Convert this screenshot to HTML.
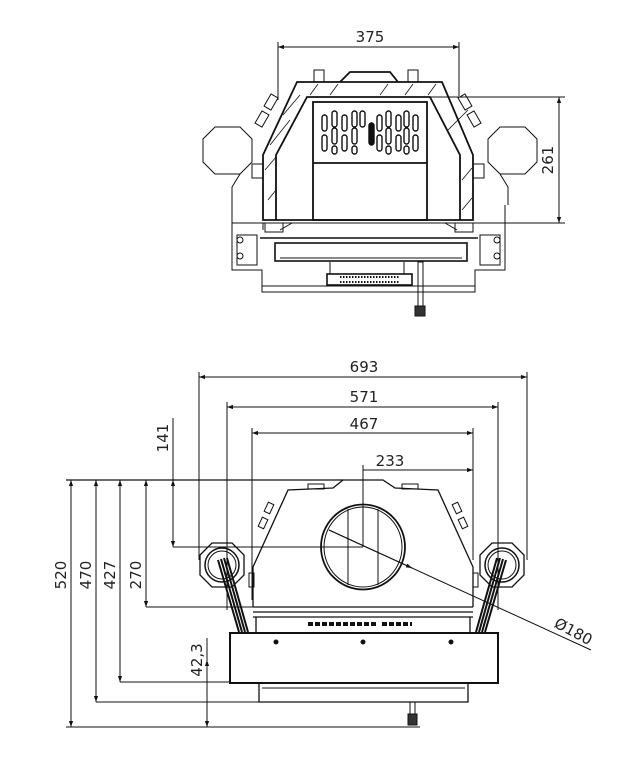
<!DOCTYPE html>
<html><head><meta charset="utf-8"><style>
html,body{margin:0;padding:0;background:#fff;}
svg{display:block;}
text{font-family:"DejaVu Sans","Liberation Sans",sans-serif;font-size:15px;fill:#222;}
</style></head><body>
<svg width="634" height="761" viewBox="0 0 634 761" xmlns="http://www.w3.org/2000/svg">
<defs>
<marker id="a" viewBox="0 0 10 10" refX="10" refY="5" markerWidth="10" markerHeight="6" orient="auto-start-reverse" markerUnits="userSpaceOnUse"><path d="M0,1.5 L10,5 L0,8.5 z" fill="#111"/></marker>
</defs>
<g stroke="#111" fill="none" stroke-width="1">
<!-- TOP VIEW -->
<line x1="278" y1="47" x2="459" y2="47" marker-start="url(#a)" marker-end="url(#a)"/>
<line x1="278" y1="42" x2="278" y2="100"/><line x1="459" y1="42" x2="459" y2="96"/>
<line x1="559" y1="97" x2="559" y2="223" marker-start="url(#a)" marker-end="url(#a)"/>
<line x1="430" y1="97" x2="565" y2="97"/><line x1="500" y1="223" x2="565" y2="223"/>
<g stroke-width="1.8">
<path d="M263,155 L297,82 L442,82 L473,155 L473,220 L263,220 Z"/>
<path d="M276,220 L276,155 L307,97 L430,97 L460,155 L460,220"/>
<rect x="313" y="102" width="114" height="118"/>
<line x1="313" y1="163" x2="427" y2="163"/>
<path d="M340,82 L350,72 L390,72 L398,82"/>
</g>
<path d="M310,95 L318,84 M330,95 L338,84 M380,95 L388,84 M405,95 L413,84 M428,95 L436,84 M268,200 L276,190 M265,170 L276,157 M270,145 L290,120 M283,115 L300,95 M462,210 L472,198 M462,180 L472,168 M448,130 L468,110" stroke-width="0.8"/>
<rect x="314" y="70" width="10" height="12"/><rect x="408" y="70" width="10" height="12"/>
<g stroke-width="1.4">
<rect x="322" y="115" width="5" height="16" rx="2.5"/><rect x="322" y="135" width="5" height="16" rx="2.5"/>
<rect x="332" y="111" width="5" height="16" rx="2.5"/><rect x="332" y="128" width="5" height="16" rx="2.5"/><rect x="332" y="146" width="5" height="8" rx="2.5"/>
<rect x="342" y="115" width="5" height="16" rx="2.5"/><rect x="342" y="135" width="5" height="16" rx="2.5"/>
<rect x="352" y="111" width="5" height="16" rx="2.5"/><rect x="352" y="128" width="5" height="16" rx="2.5"/><rect x="352" y="146" width="5" height="8" rx="2.5"/>
<rect x="360" y="111" width="5" height="16" rx="2.5"/><rect x="369" y="123" width="5" height="22" rx="2.5" fill="#111"/>
<rect x="377" y="115" width="5" height="16" rx="2.5"/><rect x="377" y="135" width="5" height="16" rx="2.5"/>
<rect x="386" y="111" width="5" height="16" rx="2.5"/><rect x="386" y="128" width="5" height="16" rx="2.5"/><rect x="386" y="146" width="5" height="8" rx="2.5"/>
<rect x="396" y="115" width="5" height="16" rx="2.5"/><rect x="396" y="135" width="5" height="16" rx="2.5"/>
<rect x="404" y="111" width="5" height="16" rx="2.5"/><rect x="404" y="128" width="5" height="16" rx="2.5"/><rect x="404" y="146" width="5" height="8" rx="2.5"/>
<rect x="413" y="115" width="5" height="16" rx="2.5"/><rect x="413" y="135" width="5" height="16" rx="2.5"/>
</g>
<polygon points="215,127 240,127 252,139 252,162 240,174 215,174 203,162 203,139"/>
<path d="M240,174 L232,187 L232,205"/>
<polygon points="500,127 525,127 537,139 537,162 525,174 500,174 488,162 488,139"/>
<path d="M500,174 L508,187 L508,205"/>
<rect x="252" y="164" width="11" height="14"/><rect x="473" y="164" width="11" height="14"/>
<rect x="267" y="95" width="8" height="14" transform="rotate(30 271 102)"/><rect x="258" y="112" width="8" height="14" transform="rotate(30 262 119)"/>
<rect x="461" y="95" width="8" height="14" transform="rotate(-30 465 102)"/><rect x="470" y="112" width="8" height="14" transform="rotate(-30 474 119)"/>
<path d="M232,205 L232,270 L262,270 L262,292 L475,292 L475,270 L505,270 L505,205"/>
<line x1="262" y1="286" x2="475" y2="286"/>
<line x1="232" y1="223" x2="505" y2="223"/>
<path d="M263,223 L263,230 M473,223 L473,230 M292,223 L280,230 M445,223 L457,230"/>
<rect x="265" y="223" width="18" height="9"/><rect x="455" y="223" width="18" height="9"/>
<line x1="260" y1="238" x2="478" y2="238" stroke-width="1.6"/>
<rect x="275" y="243" width="192" height="18" stroke-width="1.6"/>
<line x1="280" y1="258" x2="462" y2="258"/>
<rect x="237" y="235" width="20" height="30"/><rect x="480" y="235" width="20" height="30"/>
<circle cx="240" cy="240" r="3"/><circle cx="240" cy="256" r="3"/><circle cx="497" cy="240" r="3"/><circle cx="497" cy="256" r="3"/>
<line x1="330" y1="262" x2="330" y2="274"/><line x1="404" y1="262" x2="404" y2="274"/>
<rect x="327" y="274" width="85" height="11" stroke-width="1.6"/>
<path d="M340,277 h60 M340,282 h60" stroke-dasharray="1.5 1.5" stroke-width="2"/>
<rect x="418" y="262" width="5" height="45"/>
<rect x="415" y="306" width="10" height="10" fill="#333"/>

<!-- BOTTOM VIEW -->
<line x1="199" y1="377" x2="527" y2="377" marker-start="url(#a)" marker-end="url(#a)"/>
<line x1="199" y1="372" x2="199" y2="560"/><line x1="527" y1="372" x2="527" y2="560"/>
<line x1="227" y1="407" x2="498" y2="407" marker-start="url(#a)" marker-end="url(#a)"/>
<line x1="227" y1="402" x2="227" y2="610"/><line x1="498" y1="402" x2="498" y2="610"/>
<line x1="252" y1="433" x2="473" y2="433" marker-start="url(#a)" marker-end="url(#a)"/>
<line x1="252" y1="428" x2="252" y2="600"/><line x1="473" y1="428" x2="473" y2="560"/>
<line x1="363" y1="470" x2="473" y2="470" marker-end="url(#a)"/>
<line x1="363" y1="465" x2="363" y2="547"/>
<line x1="66" y1="480" x2="343" y2="480" stroke-width="1.3"/>
<line x1="71" y1="480" x2="71" y2="727" marker-start="url(#a)" marker-end="url(#a)"/>
<line x1="96" y1="480" x2="96" y2="702" marker-start="url(#a)" marker-end="url(#a)"/>
<line x1="120" y1="480" x2="120" y2="682" marker-start="url(#a)" marker-end="url(#a)"/>
<line x1="146" y1="480" x2="146" y2="607" marker-start="url(#a)" marker-end="url(#a)"/>
<line x1="173" y1="418" x2="173" y2="547"/>
<line x1="173" y1="480" x2="173" y2="547" marker-start="url(#a)" marker-end="url(#a)"/>
<line x1="173" y1="547" x2="363" y2="547"/>
<line x1="146" y1="607" x2="253" y2="607"/>
<line x1="120" y1="682" x2="230" y2="682"/>
<line x1="96" y1="702" x2="259" y2="702"/>
<line x1="66" y1="727" x2="420" y2="727"/>
<line x1="207" y1="638" x2="207" y2="727"/>
<line x1="207" y1="660" x2="207" y2="682" marker-start="url(#a)"/>
<line x1="207" y1="702" x2="207" y2="727" marker-end="url(#a)"/>
<g stroke-width="1.3">
<path d="M253,607 L253,567 L288,490 L333,488 L343,480 L383,480 L395,488 L438,490 L473,567 L473,607"/>
<line x1="253" y1="607" x2="473" y2="607"/><line x1="253" y1="612" x2="473" y2="612"/><line x1="253" y1="617" x2="473" y2="617"/>
<line x1="256" y1="617" x2="256" y2="633"/><line x1="470" y1="617" x2="470" y2="633"/>
</g>
<rect x="308" y="484" width="16" height="5"/><rect x="402" y="484" width="16" height="5"/>
<rect x="266" y="503" width="6" height="10" transform="rotate(25 269 508)"/><rect x="260" y="518" width="6" height="10" transform="rotate(25 263 523)"/>
<rect x="454" y="503" width="6" height="10" transform="rotate(-25 457 508)"/><rect x="460" y="518" width="6" height="10" transform="rotate(-25 463 523)"/>
<rect x="249" y="573" width="5" height="14"/><rect x="473" y="573" width="5" height="14"/>
<ellipse cx="363" cy="547" rx="42" ry="42.5" stroke-width="1.8"/>
<ellipse cx="363" cy="547" rx="39" ry="40"/>
<line x1="348" y1="509" x2="348" y2="585"/><line x1="378" y1="509" x2="378" y2="585"/>
<path d="M308,624 h70 M382,624 h30" stroke-width="4" stroke-dasharray="5 2"/>
<polygon points="212,543 232,543 244,555 244,575 232,587 212,587 200,575 200,555" stroke-width="1.3"/>
<circle cx="222" cy="565" r="17" stroke-width="1.5"/><circle cx="222" cy="565" r="14"/>
<polygon points="492,543 512,543 524,555 524,575 512,587 492,587 480,575 480,555" stroke-width="1.3"/>
<circle cx="502" cy="565" r="17" stroke-width="1.5"/><circle cx="502" cy="565" r="14"/>
<path d="M218,560 L239,632 M221,559 L242,632 M224,558 L245,632 M227,558 L248,632" stroke-width="2"/>
<path d="M506,560 L485,632 M503,559 L482,632 M500,558 L479,632 M497,558 L476,632" stroke-width="2"/>
<rect x="230" y="633" width="268" height="50" stroke-width="2"/>
<circle cx="276" cy="642" r="2" fill="#111"/><circle cx="363" cy="642" r="2" fill="#111"/><circle cx="451" cy="642" r="2" fill="#111"/>
<path d="M259,683 L259,702 L468,702 L468,683" stroke-width="1.3"/>
<line x1="262" y1="688" x2="465" y2="688"/>
<rect x="410" y="702" width="5" height="13"/><rect x="408" y="714" width="9" height="11" fill="#333"/>
<line x1="329" y1="530" x2="591" y2="650"/>
<line x1="329" y1="530" x2="412" y2="568" marker-end="url(#a)"/>
</g>
<text x="370" y="42" text-anchor="middle">375</text>
<text transform="translate(553,160) rotate(-90)" text-anchor="middle">261</text>
<text x="364" y="372" text-anchor="middle">693</text>
<text x="364" y="402" text-anchor="middle">571</text>
<text x="364" y="429" text-anchor="middle">467</text>
<text x="390" y="466" text-anchor="middle">233</text>
<text transform="translate(168,438) rotate(-90)" text-anchor="middle">141</text>
<text transform="translate(66,575) rotate(-90)" text-anchor="middle">520</text>
<text transform="translate(91,575) rotate(-90)" text-anchor="middle">470</text>
<text transform="translate(115,575) rotate(-90)" text-anchor="middle">427</text>
<text transform="translate(141,575) rotate(-90)" text-anchor="middle">270</text>
<text transform="translate(202,660) rotate(-90)" text-anchor="middle">42,3</text>
<text transform="translate(571,636) rotate(28)" text-anchor="middle">Ø180</text>
</svg>
</body></html>
